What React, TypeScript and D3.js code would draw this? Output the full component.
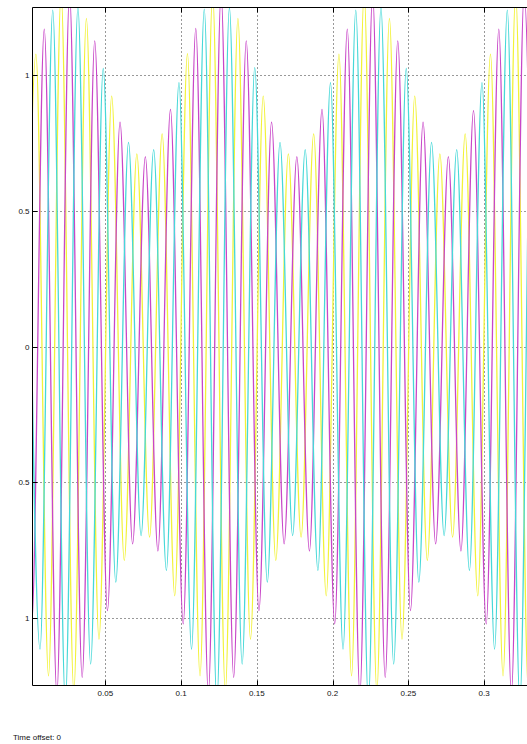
import React, { useEffect, useRef } from 'react';
import * as d3 from 'd3';

// Extrema of each phase: times in ms, values in pu.
const yellowTimes = [
  -4.2, 4.2, 12.5, 20.8, 29.2, 37.5, 45.8, 54.2, 62.5, 70.8, 79.2, 87.5, 95.8, 104.2,
  112.5, 120.8, 129.2, 137.5, 145.8, 154.2, 162.5, 170.8, 179.2, 187.5, 195.8, 204.2,
  212.5, 220.8, 229.2, 237.5, 245.8, 254.2, 262.5, 270.8, 279.2, 287.5, 295.8, 304.2,
  312.5, 320.8, 329.2, 337.5,
];
const yellowValues = [
  -0.919,
  1.078, -1.214, 1.3, -1.27, 1.21, -1.079, 0.923, -0.789, 0.71, -0.703, 0.784, -0.919,
  1.08, -1.214, 1.3, -1.27, 1.21, -1.079, 0.923, -0.789, 0.71, -0.703, 0.784, -0.919,
  1.078, -1.214, 1.3, -1.27, 1.21, -1.079, 0.923, -0.789, 0.71, -0.703, 0.784, -0.919,
  1.078, -1.214, 1.3, -1.27, 1.21,
];

const cyanTimes = [
  -1.4, 6.9, 15.3, 23.6, 31.9, 40.3, 48.6, 56.9, 65.3, 73.6, 81.9, 90.3, 98.6, 106.9,
  115.3, 123.6, 131.9, 140.3, 148.6, 156.9, 165.3, 173.6, 181.9, 190.3, 198.6, 206.9,
  215.3, 223.6, 231.9, 240.3, 248.6, 256.9, 265.3, 273.6, 281.9, 290.3, 298.6, 306.9,
  315.3, 323.6, 331.9, 340.3,
];
const cyanValues = [
  0.973,
  -1.116, 1.24, -1.31, 1.25, -1.171, 1.025, -0.869, 0.753, -0.697, 0.726, -0.826, 0.973,
  -1.116, 1.244, -1.31, 1.25, -1.171, 1.028, -0.869, 0.753, -0.697, 0.726, -0.826, 0.973,
  -1.116, 1.24, -1.31, 1.25, -1.171, 1.025, -0.869, 0.753, -0.697, 0.726, -0.826, 0.973,
  -1.116, 1.24, -1.31, 1.25, -1.171,
];

const magentaTimes = [
  -7.0, 1.4, 9.7, 18.0, 26.4, 34.7, 43.0, 51.4, 59.7, 68.0, 76.4, 84.7, 93.0, 101.4,
  109.7, 118.0, 126.4, 134.7, 143.0, 151.4, 159.7, 168.0, 176.4, 184.7, 193.0, 201.4,
  209.7, 218.0, 226.4, 234.7, 243.0, 251.4, 259.7, 268.0, 276.4, 284.7, 293.0, 301.4,
  309.7, 318.0, 326.4, 334.7,
];
const magentaValues = [
  0.874, -1.023,
  1.17, -1.28, 1.3, -1.22, 1.127, -0.974, 0.827, -0.728, 0.7, -0.754, 0.874, -1.023,
  1.173, -1.28, 1.3, -1.22, 1.127, -0.974, 0.827, -0.728, 0.7, -0.754, 0.874, -1.023,
  1.17, -1.28, 1.3, -1.22, 1.127, -0.974, 0.827, -0.728, 0.7, -0.754, 0.87, -1.023,
  1.17, -1.28, 1.3, -1.22,
];

const xTicks = [0.05, 0.1, 0.15, 0.2, 0.25, 0.3];
const xTickLabels = ['0.05', '0.1', '0.15', '0.2', '0.25', '0.3'];
const yTicks = [1, 0.5, 0, -0.5, -1];
const yTickLabels = ['1', '0.5', '0', '0.5', '1'];

const font = '"Liberation Sans", Arial, sans-serif';

export default function App() {
  const ref = useRef<SVGSVGElement>(null);

  useEffect(() => {
    const node = d3.select(ref.current);
    node.selectAll('*').remove();

    const left = 32.5, top = 7.5, right = 527, bottom = 685.5;

    const x = d3.scaleLinear().domain([0.0016, 0.3283]).range([32, 527]);
    const y = d3.scaleLinear().domain([-1.25, 1.25]).range([bottom, top]);
    const px = (v: number) => Math.round(v) + 0.5;

    node.append('rect').attr('width', 527).attr('height', 744).attr('fill', '#fff');

    node.append('clipPath').attr('id', 'plot-clip')
      .append('rect')
      .attr('x', left).attr('y', top)
      .attr('width', right - left).attr('height', bottom - top);

    // dotted grid
    const grid = node.append('g')
      .attr('stroke', '#333')
      .attr('stroke-width', 1)
      .attr('stroke-dasharray', '1,3');

    grid.selectAll('line.gx').data(xTicks).enter().append('line')
      .attr('x1', d => px(x(d))).attr('x2', d => px(x(d)))
      .attr('y1', top).attr('y2', bottom);

    grid.selectAll('line.gy').data(yTicks).enter().append('line')
      .attr('x1', left).attr('x2', right)
      .attr('y1', d => px(y(d))).attr('y2', d => px(y(d)));

    // the three phases
    const line = d3.line<[number, number]>()
      .x(d => x(d[0] / 1000))
      .y(d => y(d[1]))
      .curve(d3.curveMonotoneX);

    const phases = [
      { times: yellowTimes, values: yellowValues, color: '#f2f238' },
      { times: magentaTimes, values: magentaValues, color: '#c846c8' },
      { times: cyanTimes, values: cyanValues, color: '#46d8d8' },
    ];

    const traces = node.append('g').attr('clip-path', 'url(#plot-clip)');
    phases.forEach(p => {
      const pts = p.times.map((t, i) => [t, p.values[i]] as [number, number]);
      traces.append('path')
        .datum(pts)
        .attr('fill', 'none')
        .attr('stroke', p.color)
        .attr('stroke-width', 1.3)
        .attr('stroke-linejoin', 'round')
        .attr('d', line);
    });

    // frame
    const frame = node.append('g').attr('stroke', '#000').attr('stroke-width', 1);
    frame.append('line').attr('x1', left).attr('x2', right + 1).attr('y1', top).attr('y2', top);
    frame.append('line').attr('x1', left).attr('x2', left).attr('y1', top).attr('y2', bottom);
    frame.append('line').attr('x1', left).attr('x2', right + 1).attr('y1', bottom).attr('y2', bottom);

    // inward tick marks
    frame.selectAll('line.tt').data(xTicks).enter().append('line')
      .attr('x1', d => px(x(d))).attr('x2', d => px(x(d)))
      .attr('y1', top).attr('y2', top + 5);
    frame.selectAll('line.tb').data(xTicks).enter().append('line')
      .attr('x1', d => px(x(d))).attr('x2', d => px(x(d)))
      .attr('y1', bottom).attr('y2', bottom - 5);
    frame.selectAll('line.tl').data(yTicks).enter().append('line')
      .attr('x1', left).attr('x2', left + 5)
      .attr('y1', d => px(y(d))).attr('y2', d => px(y(d)));

    // tick labels
    node.append('g').selectAll('text').data(xTicks).enter().append('text')
      .attr('x', d => x(d))
      .attr('y', 696)
      .attr('text-anchor', 'middle')
      .attr('font-family', font)
      .attr('font-size', 8)
      .attr('fill', '#111')
      .text((d, i) => xTickLabels[i]);

    node.append('g').selectAll('text').data(yTicks).enter().append('text')
      .attr('x', 29.5)
      .attr('y', d => y(d) + 3)
      .attr('text-anchor', 'end')
      .attr('font-family', font)
      .attr('font-size', 8)
      .attr('fill', '#111')
      .text((d, i) => yTickLabels[i]);

    node.append('text')
      .attr('x', 13)
      .attr('y', 740)
      .attr('font-family', font)
      .attr('font-size', 8)
      .attr('fill', '#111')
      .text('Time offset: 0');
  }, []);

  return (
    <>
      <style>{'body{margin:0}'}</style>
      <svg ref={ref} width={527} height={744} style={{ display: 'block' }} />
    </>
  );
}
